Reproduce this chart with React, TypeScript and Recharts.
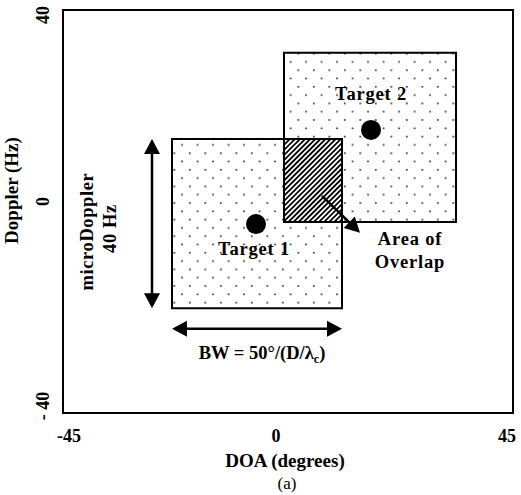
import { ScatterChart, Scatter, XAxis, YAxis, ReferenceArea, ReferenceLine } from 'recharts';

const DOA_TICKS = [-45, 0, 45];
const DOPPLER_TICKS = [-40, 0, 40];

const TARGET_NAMES = ['Target 1', 'Target 2'];
const TARGET_DOA = [-6.4, 16.6];
const TARGET_DOPPLER = [-2.5, 16.2];

// resolution cell of each target (beamwidth in DOA, microDoppler spread in Doppler)
const CELL_DOA_MIN = [-23.2, -0.8];
const CELL_DOA_MAX = [10.8, 33.6];
const CELL_DOPPLER_MIN = [-19.2, -2.1];
const CELL_DOPPLER_MAX = [14.4, 31.5];

// dimension arrows and the pointer to the overlap
const BW_ARROW_DOPPLER = -23.3;
const MICRO_ARROW_DOA = -27.2;
const OVERLAP_ARROW_DOA = [6.8, 14.4];
const OVERLAP_ARROW_DOPPLER = [3.1, -4.2];

const targets = TARGET_NAMES.map((name, i) => ({
  name,
  doa: TARGET_DOA[i],
  doppler: TARGET_DOPPLER[i],
}));

const overlap = {
  x1: Math.max(...CELL_DOA_MIN),
  x2: Math.min(...CELL_DOA_MAX),
  y1: Math.max(...CELL_DOPPLER_MIN),
  y2: Math.min(...CELL_DOPPLER_MAX),
};

const SERIF = '"Liberation Serif", "Times New Roman", serif';
const BOLD = { fontFamily: SERIF, fontWeight: 700, fill: '#000' } as const;

const X_TICK_SHIFT: Record<number, number> = { [-45]: 6, 0: -12, 45: -6 };
const Y_TICK_SHIFT: Record<number, number> = { [-40]: -7, 0: -10, 40: 5 };

const XTick = ({ x, y, payload }: any) => (
  <text x={x + (X_TICK_SHIFT[payload.value] ?? 0)} y={y + 29} textAnchor="middle" fontSize={18} style={BOLD}>
    {payload.value}
  </text>
);

const YTick = ({ x, y, payload }: any) => {
  const tx = x - 14;
  const ty = y + (Y_TICK_SHIFT[payload.value] ?? 0);
  const text = payload.value < 0 ? `- ${Math.abs(payload.value)}` : String(payload.value);
  return (
    <text x={tx} y={ty} transform={`rotate(-90 ${tx} ${ty})`} textAnchor="middle" fontSize={18} style={BOLD}>
      {text}
    </text>
  );
};

const XTitle = ({ viewBox }: any) => {
  const cx = viewBox.x + viewBox.width / 2;
  return (
    <g>
      <text x={cx - 3} y={viewBox.y + 54} textAnchor="middle" fontSize={19} style={BOLD}>
        DOA (degrees)
      </text>
      <text x={cx - 1} y={viewBox.y + 76} textAnchor="middle" fontSize={17} fontFamily={SERIF} fill="#000">
        (a)
      </text>
    </g>
  );
};

const YTitle = ({ viewBox }: any) => {
  const tx = 18;
  const ty = viewBox.y + viewBox.height / 2 - 21;
  return (
    <text x={tx} y={ty} transform={`rotate(-90 ${tx} ${ty})`} textAnchor="middle" fontSize={19} style={BOLD}>
      Doppler (Hz)
    </text>
  );
};

// triangle head whose tip sits at (tx, ty), pointing along (ux, uy)
const head = (tx: number, ty: number, ux: number, uy: number) => {
  const L = 15;
  const W = 8;
  const bx = tx - ux * L;
  const by = ty - uy * L;
  return `${tx},${ty} ${bx - uy * W},${by + ux * W} ${bx + uy * W},${by - ux * W}`;
};

const arrow =
  (both: boolean, caption?: (p: { x1: number; y1: number; x2: number; y2: number }) => any) =>
  (p: any) => {
    const { x1, y1, x2, y2 } = p;
    const len = Math.hypot(x2 - x1, y2 - y1) || 1;
    const ux = (x2 - x1) / len;
    const uy = (y2 - y1) / len;
    const sx = both ? x1 + ux * 12 : x1;
    const sy = both ? y1 + uy * 12 : y1;
    return (
      <g>
        <line x1={sx} y1={sy} x2={x2 - ux * 12} y2={y2 - uy * 12} stroke="#000" strokeWidth={2.5} />
        <polygon points={head(x2, y2, ux, uy)} fill="#000" />
        {both && <polygon points={head(x1, y1, -ux, -uy)} fill="#000" />}
        {caption && caption({ x1, y1, x2, y2 })}
      </g>
    );
  };

const bwCaption = ({ x1, y1, x2 }: any) => {
  const mx = (x1 + x2) / 2;
  return (
    <text x={mx + 5} y={y1 + 30} textAnchor="middle" fontSize={18.5} style={BOLD}>
      BW = 50°/(D/λ
      <tspan dy={4} fontSize={12}>c</tspan>
      <tspan dy={-4}>)</tspan>
    </text>
  );
};

const microCaption = ({ x1, y1, y2 }: any) => {
  const my = (y1 + y2) / 2;
  const a = x1 - 59;
  const b = x1 - 36;
  return (
    <g>
      <text x={a} y={my + 8} transform={`rotate(-90 ${a} ${my + 8})`} textAnchor="middle" fontSize={18.5} letterSpacing={0.6} style={BOLD}>
        microDoppler
      </text>
      <text x={b} y={my + 5} transform={`rotate(-90 ${b} ${my + 5})`} textAnchor="middle" fontSize={18.5} letterSpacing={0.6} style={BOLD}>
        40 Hz
      </text>
    </g>
  );
};

const overlapCaption = ({ x2, y2 }: any) => (
  <g>
    <text x={x2 + 50} y={y2 + 12} textAnchor="middle" fontSize={18.5} letterSpacing={0.8} style={BOLD}>
      Area of
    </text>
    <text x={x2 + 50} y={y2 + 35} textAnchor="middle" fontSize={18.5} letterSpacing={0.8} style={BOLD}>
      Overlap
    </text>
  </g>
);

const TargetMark = (p: any) => {
  const below = p.payload.name === 'Target 1';
  return (
    <g>
      <circle cx={p.cx} cy={p.cy} r={10} fill="#000" />
      <text
        x={p.cx + (below ? -2 : 0)}
        y={p.cy + (below ? 31 : -30)}
        textAnchor="middle"
        fontSize={18.5}
        letterSpacing={0.8}
        style={BOLD}
      >
        {p.payload.name}
      </text>
    </g>
  );
};

export default function App() {
  return (
    <div style={{ position: 'absolute', left: 0, top: 0, background: '#fff' }}>
      <ScatterChart width={521} height={495} margin={{ top: 10, right: 8, bottom: 0, left: 0 }}>
        <defs>
          <pattern id="dots" width={15.5} height={16.6} patternUnits="userSpaceOnUse">
            <rect x={3} y={3} width={1.6} height={1.6} fill="#222" />
            <rect x={10.75} y={11.3} width={1.6} height={1.6} fill="#222" />
          </pattern>
          <pattern id="hatch" width={3.6} height={3.6} patternUnits="userSpaceOnUse" patternTransform="rotate(45)">
            <rect x={0} y={0} width={3.6} height={3.6} fill="#fff" />
            <rect x={0} y={0} width={1.8} height={3.6} fill="#000" />
          </pattern>
        </defs>
        <XAxis
          type="number"
          dataKey="doa"
          domain={[-45, 45]}
          ticks={DOA_TICKS}
          height={82}
          axisLine={false}
          tickLine={false}
          tickSize={0}
          tickMargin={0}
          tick={<XTick />}
          label={<XTitle />}
        />
        <YAxis
          type="number"
          dataKey="doppler"
          domain={[-40, 40]}
          ticks={DOPPLER_TICKS}
          width={63}
          axisLine={false}
          tickLine={false}
          tickSize={0}
          tickMargin={0}
          tick={<YTick />}
          label={<YTitle />}
        />
        <ReferenceArea x1={-45} x2={45} y1={-40} y2={40} fill="none" stroke="#000" strokeWidth={2} />
        {TARGET_NAMES.map((name, i) => (
          <ReferenceArea
            key={name}
            x1={CELL_DOA_MIN[i]}
            x2={CELL_DOA_MAX[i]}
            y1={CELL_DOPPLER_MIN[i]}
            y2={CELL_DOPPLER_MAX[i]}
            fill="url(#dots)"
            fillOpacity={1}
            stroke="#000"
            strokeWidth={2}
          />
        ))}
        <ReferenceArea {...overlap} fill="url(#hatch)" fillOpacity={1} stroke="#000" strokeWidth={2} />
        <ReferenceLine
          segment={[
            { x: MICRO_ARROW_DOA, y: CELL_DOPPLER_MAX[0] },
            { x: MICRO_ARROW_DOA, y: CELL_DOPPLER_MIN[0] },
          ]}
          shape={arrow(true, microCaption)}
        />
        <ReferenceLine
          segment={[
            { x: CELL_DOA_MIN[0], y: BW_ARROW_DOPPLER },
            { x: CELL_DOA_MAX[0], y: BW_ARROW_DOPPLER },
          ]}
          shape={arrow(true, bwCaption)}
        />
        <ReferenceLine
          segment={[
            { x: OVERLAP_ARROW_DOA[0], y: OVERLAP_ARROW_DOPPLER[0] },
            { x: OVERLAP_ARROW_DOA[1], y: OVERLAP_ARROW_DOPPLER[1] },
          ]}
          shape={arrow(false, overlapCaption)}
        />
        <Scatter data={targets} shape={TargetMark} isAnimationActive={false} />
      </ScatterChart>
    </div>
  );
}
